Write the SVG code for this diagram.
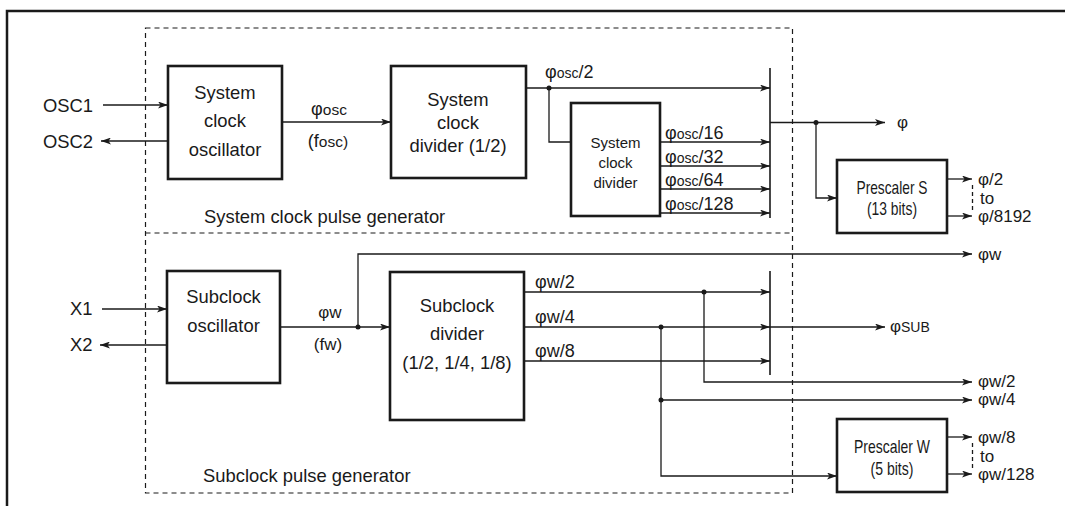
<svg xmlns="http://www.w3.org/2000/svg" width="1065" height="506" viewBox="0 0 1065 506">
<style>
text{font-family:"Liberation Sans",Arial,Helvetica,sans-serif;fill:#1a1a1a}
.b{font-size:18.4px}
.m{font-size:15px}
.l{font-size:17px}
.k{font-size:18px}
.s{font-size:14px}
.s2{font-size:15.5px}
.box{fill:#fff;stroke:#1a1a1a;stroke-width:2.6}
.ln{fill:none;stroke:#1a1a1a;stroke-width:1.3}
.arr{fill:none;stroke:#1a1a1a;stroke-width:1.3;marker-end:url(#ah)}
.bus{stroke:#1a1a1a;stroke-width:1.6}
.dash{fill:none;stroke:#1a1a1a;stroke-width:1.2;stroke-dasharray:5,4}
.dot{fill:#1a1a1a}
</style>
<defs>
<marker id="ah" viewBox="0 0 10 7" refX="10" refY="3.5" markerWidth="10" markerHeight="7" markerUnits="userSpaceOnUse" orient="auto">
<path d="M0,0 L10,3.5 L0,7 L2.5,3.5 z" fill="#1a1a1a"/>
</marker>
</defs>
<rect width="1065" height="506" fill="#fff"/>
<path d="M7,506 V11 H1065" fill="none" stroke="#1a1a1a" stroke-width="2.5"/>
<g id="frames">
<rect class="dash" x="145.5" y="28" width="647" height="465"/>
<line class="dash" x1="145.5" y1="233" x2="792.5" y2="233"/>
<text class="b" x="204" y="223">System clock pulse generator</text>
<text class="b" x="203" y="482">Subclock pulse generator</text>
</g>
<g id="connectors">
<line class="arr" x1="103" y1="105" x2="168" y2="105"/>
<line class="arr" x1="168" y1="141" x2="101" y2="141"/>
<line class="arr" x1="282" y1="122" x2="391" y2="122"/>
<line class="arr" x1="526" y1="88" x2="770" y2="88"/>
<path class="ln" d="M549,88 V142 H571"/>
<line class="arr" x1="660" y1="142" x2="770" y2="142"/>
<line class="arr" x1="660" y1="166" x2="770" y2="166"/>
<line class="arr" x1="660" y1="189" x2="770" y2="189"/>
<line class="arr" x1="660" y1="213" x2="770" y2="213"/>
<line class="bus" x1="770" y1="68" x2="770" y2="218"/>
<line class="arr" x1="770" y1="122.5" x2="885" y2="122.5"/>
<path class="arr" d="M816,122.5 V198 H837"/>
<line class="arr" x1="947" y1="179" x2="972" y2="179"/>
<line class="arr" x1="947" y1="216" x2="972" y2="216"/>
<line class="ln" x1="972.5" y1="185" x2="972.5" y2="211" stroke-dasharray="4,3"/>
<line class="arr" x1="102" y1="309" x2="167" y2="309"/>
<line class="arr" x1="167" y1="345" x2="100" y2="345"/>
<line class="arr" x1="280" y1="327" x2="390" y2="327"/>
<path class="arr" d="M358,327 V254 H972"/>
<line class="arr" x1="524" y1="292" x2="770" y2="292"/>
<line class="arr" x1="524" y1="327" x2="770" y2="327"/>
<line class="arr" x1="524" y1="361" x2="770" y2="361"/>
<line class="bus" x1="770" y1="271" x2="770" y2="375"/>
<line class="arr" x1="770" y1="327" x2="885" y2="327"/>
<path class="arr" d="M704,292 V382 H972"/>
<path class="arr" d="M661,327 V476 H837"/>
<line class="arr" x1="661" y1="400" x2="972" y2="400"/>
<line class="arr" x1="947" y1="437" x2="972" y2="437"/>
<line class="arr" x1="947" y1="474" x2="972" y2="474"/>
<line class="ln" x1="972.5" y1="443" x2="972.5" y2="469" stroke-dasharray="4,3"/>
<circle class="dot" cx="549" cy="88" r="2.5"/>
<circle class="dot" cx="816" cy="122.5" r="2.5"/>
<circle class="dot" cx="358" cy="327" r="2.5"/>
<circle class="dot" cx="704" cy="292" r="2.5"/>
<circle class="dot" cx="661" cy="327" r="2.5"/>
<circle class="dot" cx="661" cy="400" r="2.5"/>
</g>
<g id="labels">
<text class="b" x="43" y="112">OSC1</text>
<text class="b" x="43" y="148">OSC2</text>
<text class="k" x="329" y="115" text-anchor="middle">φ<tspan class="s2">osc</tspan></text>
<text class="k" x="328" y="147" text-anchor="middle">(f<tspan class="s2">osc)</tspan></text>
<text class="k" x="545" y="78">φ<tspan class="s">osc</tspan>/2</text>
<text class="k" x="665" y="138.5">φ<tspan class="s">osc</tspan>/16</text>
<text class="k" x="665" y="162.5">φ<tspan class="s">osc</tspan>/32</text>
<text class="k" x="665" y="185.5">φ<tspan class="s">osc</tspan>/64</text>
<text class="k" x="665" y="209.5">φ<tspan class="s">osc</tspan>/128</text>
<text class="l" x="897" y="128">φ</text>
<text class="l" x="978" y="185">φ/2</text>
<text class="l" x="980" y="204">to</text>
<text class="l" x="978" y="222">φ/8192</text>
<text class="b" x="70" y="315">X1</text>
<text class="b" x="70" y="351">X2</text>
<text class="l" x="330" y="318" text-anchor="middle">φw</text>
<text class="l" x="328" y="350" text-anchor="middle">(fw)</text>
<text class="k" x="535" y="288">φw/2</text>
<text class="k" x="535" y="323">φw/4</text>
<text class="k" x="535" y="357">φw/8</text>
<text class="l" x="978" y="260">φw</text>
<text class="l" x="890" y="332">φ<tspan class="s">SUB</tspan></text>
<text class="l" x="978" y="387">φw/2</text>
<text class="l" x="978" y="405">φw/4</text>
<text class="l" x="978" y="443">φw/8</text>
<text class="l" x="980" y="462">to</text>
<text class="l" x="978" y="480">φw/128</text>
</g>
<g id="sys-osc">
<rect class="box" x="168" y="66" width="114" height="113"/>
<text class="b" x="225" y="99" text-anchor="middle">System</text>
<text class="b" x="225" y="127" text-anchor="middle">clock</text>
<text class="b" x="225" y="156" text-anchor="middle">oscillator</text>
</g>
<g id="sys-div-half">
<rect class="box" x="391" y="66" width="135" height="112"/>
<text class="b" x="458" y="106" text-anchor="middle">System</text>
<text class="b" x="458" y="129" text-anchor="middle">clock</text>
<text class="b" x="458" y="152" text-anchor="middle">divider (1/2)</text>
</g>
<g id="sys-div">
<rect class="box" x="571" y="103" width="89" height="113"/>
<text class="m" x="615.5" y="148" text-anchor="middle">System</text>
<text class="m" x="615.5" y="168" text-anchor="middle">clock</text>
<text class="m" x="615.5" y="188" text-anchor="middle">divider</text>
</g>
<g id="prescaler-s">
<rect class="box" x="837" y="160" width="110" height="73"/>
<text class="b" x="892" y="194" text-anchor="middle" textLength="71" lengthAdjust="spacingAndGlyphs">Prescaler S</text>
<text class="b" x="892" y="215" text-anchor="middle" textLength="50" lengthAdjust="spacingAndGlyphs">(13 bits)</text>
</g>
<g id="sub-osc">
<rect class="box" x="167" y="271" width="113" height="112"/>
<text class="b" x="223.5" y="303" text-anchor="middle">Subclock</text>
<text class="b" x="223.5" y="332" text-anchor="middle">oscillator</text>
</g>
<g id="sub-div">
<rect class="box" x="390" y="272" width="134" height="148"/>
<text class="b" x="457" y="312" text-anchor="middle">Subclock</text>
<text class="b" x="457" y="340" text-anchor="middle">divider</text>
<text class="b" x="457" y="369" text-anchor="middle">(1/2, 1/4, 1/8)</text>
</g>
<g id="prescaler-w">
<rect class="box" x="837" y="419" width="110" height="73"/>
<text class="b" x="892" y="453" text-anchor="middle" textLength="76" lengthAdjust="spacingAndGlyphs">Prescaler W</text>
<text class="b" x="892" y="475" text-anchor="middle" textLength="43" lengthAdjust="spacingAndGlyphs">(5 bits)</text>
</g>
</svg>
